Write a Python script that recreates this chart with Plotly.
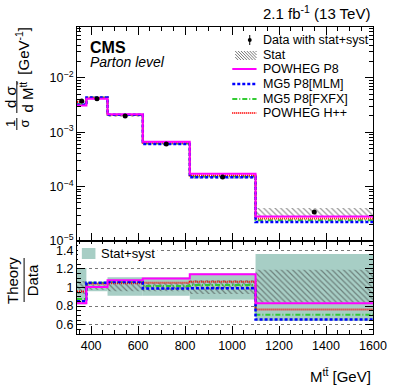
import plotly.graph_objects as go

# ---------------- data ----------------
edges = [340, 380, 470, 620, 820, 1100, 1600]
data = [3.74e-3, 4.12e-3, 1.98e-3, 6.1e-4, 1.5e-4, 3.4e-5]
stat_up = [1.07, 1.025, 1.045, 1.045, 1.08, 1.19]
stat_dn = [0.93, 0.975, 0.96, 0.96, 0.93, 0.84]
tot_up = [1.21, 1.05, 1.11, 1.11, 1.15, 1.36]
tot_dn = [0.82, 0.96, 0.91, 0.91, 0.87, 0.64]

powheg_p8 = [3.104e-3, 4.141e-3, 2.133e-3, 6.698e-4, 1.7145e-4, 2.822e-5]
mg5_mlm = [3.190e-3, 4.326e-3, 2.099e-3, 6.039e-4, 1.4895e-4, 2.230e-5]
mg5_fxfx = [3.280e-3, 4.326e-3, 2.099e-3, 6.204e-4, 1.5405e-4, 2.407e-5]
powheg_hpp = [3.583e-3, 4.285e-3, 2.069e-3, 6.405e-4, 1.5945e-4, 2.598e-5]

model_names = ["POWHEG P8", "MG5 P8[MLM]", "MG5 P8[FXFX]", "POWHEG H++"]
model_values = [powheg_p8, mg5_mlm, mg5_fxfx, powheg_hpp]
model_colors = ["#ff00ff", "#0000ff", "#33cc33", "#ff0000"]
model_dash = ["solid", "3px,2px", "5px,2px,1px,2px", "1px,1px"]
model_width = [2, 2.5, 2, 2]

x_tick_vals = [400, 600, 800, 1000, 1200, 1400, 1600]
y_tick_vals = [1e-5, 1e-4, 1e-3, 1e-2]
y_tick_text = ["10<sup>\u22125</sup>", "10<sup>\u22124</sup>", "10<sup>\u22123</sup>", "10<sup>\u22122</sup>"]
r_tick_vals = [0.6, 0.8, 1.0, 1.2, 1.4]
r_tick_text = ["0.6", "0.8", "1", "1.2", "1.4"]

# ---------------- geometry helpers ----------------
W, H = 399, 385
L, R, T, B = 77, 382, 27, 334
PW, PH = R - L, B - T


def px(x):
    return (x - L) / PW


def py(y):
    return (B - y) / PH


split = py(241)

centers = [(a + b) / 2 for a, b in zip(edges[:-1], edges[1:])]
widths = [b - a for a, b in zip(edges[:-1], edges[1:])]

fig = go.Figure()

FONT = "Liberation Sans, Arial, Helvetica, sans-serif"
HATCH = dict(shape="\\", fgcolor="#333333", size=4, solidity=0.3)

# ---------------- top panel ----------------
stat_lo = [d * s for d, s in zip(data, stat_dn)]
stat_h = [d * (u - s) for d, u, s in zip(data, stat_up, stat_dn)]
fig.add_trace(go.Bar(x=centers, y=stat_h, base=stat_lo, width=widths,
                     marker=dict(color="rgba(0,0,0,0)", line=dict(width=0), pattern=HATCH),
                     xaxis="x", yaxis="y", showlegend=False))

order = [2, 3, 1, 0]
for i in order:
    vals = model_values[i]
    fig.add_trace(go.Scatter(x=edges, y=vals + [vals[-1]], mode="lines",
                             line=dict(shape="hv", color=model_colors[i],
                                       dash=model_dash[i], width=model_width[i]),
                             xaxis="x", yaxis="y", showlegend=False))

fig.add_trace(go.Scatter(x=centers, y=data, mode="markers",
                         marker=dict(color="black", size=5),
                         xaxis="x", yaxis="y", showlegend=False))

# ---------------- ratio panel ----------------
fig.add_trace(go.Bar(x=centers, y=[u - d for u, d in zip(tot_up, tot_dn)], base=tot_dn,
                     width=widths, marker=dict(color="#a7cec5", line=dict(width=0)),
                     xaxis="x2", yaxis="y2", showlegend=False))
fig.add_trace(go.Bar(x=centers, y=[u - d for u, d in zip(stat_up, stat_dn)], base=stat_dn,
                     width=widths,
                     marker=dict(color="rgba(0,0,0,0)", line=dict(width=0), pattern=HATCH),
                     xaxis="x2", yaxis="y2", showlegend=False))
for i in order:
    ratio = [m / d for m, d in zip(model_values[i], data)]
    fig.add_trace(go.Scatter(x=edges, y=ratio + [ratio[-1]], mode="lines",
                             line=dict(shape="hv", color=model_colors[i],
                                       dash=model_dash[i], width=model_width[i]),
                             xaxis="x2", yaxis="y2", showlegend=False))

# ---------------- axes ----------------
common = dict(showline=True, linecolor="black", linewidth=1, mirror="allticks",
              ticks="inside", ticklen=8, tickcolor="black", tickwidth=1,
              zeroline=False, showgrid=False,
              tickfont=dict(family=FONT, size=12.5, color="black"))

xminor = dict(ticks="inside", ticklen=4, tickcolor="black", dtick=50, tick0=0)
fig.update_layout(
    xaxis=dict(**common, range=[340, 1600], tickmode="array", tickvals=x_tick_vals,
               showticklabels=False, anchor="y", domain=[0, 1], minor=xminor),
    yaxis=dict(**common, type="log", range=[-5, -1.066], tickmode="array",
               tickvals=y_tick_vals, ticktext=y_tick_text, anchor="x",
               domain=[split, 1],
               minor=dict(ticks="inside", ticklen=4, tickcolor="black", tickmode="array",
                          tickvals=[k * 10 ** e for e in range(-5, -1) for k in range(2, 10)])),
    xaxis2=dict(**common, range=[340, 1600], tickmode="array", tickvals=x_tick_vals,
                anchor="y2", domain=[0, 1], minor=xminor),
    yaxis2=dict(**{**common, "showgrid": True}, range=[0.5, 1.5], tickmode="array",
                tickvals=r_tick_vals, ticktext=r_tick_text, anchor="x2",
                domain=[0, split], gridcolor="#777777", griddash="dot", gridwidth=1,
                minor=dict(ticks="inside", ticklen=4, tickcolor="black", dtick=0.05,
                           tick0=0, showgrid=False)),
    barmode="overlay",
    width=W, height=H,
    margin=dict(l=L, r=W - R, t=T, b=H - B),
    paper_bgcolor="white", plot_bgcolor="white",
    showlegend=False,
    font=dict(family=FONT, color="black"),
)

ann = []
shapes = []


def text(x, y, s, size, xa="center", ya="middle", angle=0, **kw):
    ann.append(dict(x=px(x), y=py(y), xref="paper", yref="paper", text=s,
                    showarrow=False, xanchor=xa, yanchor=ya, textangle=angle,
                    font=dict(family=FONT, size=size, color="black", **kw)))


def hline(x0, x1, y, color="black", width=1, dash="solid"):
    shapes.append(dict(type="line", xref="paper", yref="paper", x0=px(x0), x1=px(x1),
                       y0=py(y), y1=py(y), line=dict(color=color, width=width, dash=dash)))


def vline(x, y0, y1, color="black", width=1):
    shapes.append(dict(type="line", xref="paper", yref="paper", x0=px(x), x1=px(x),
                       y0=py(y0), y1=py(y1), line=dict(color=color, width=width)))


# title & labels
text(381, 13, "2.1 fb<sup>-1</sup> (13 TeV)", 15, xa="right")
text(88, 47, "<b>CMS</b>", 16, xa="left")
text(88, 62, "<i>Parton level</i>", 14, xa="left")
text(382, 375, "M<sup>tt\u0304</sup> [GeV]", 15, xa="right")

# top y title (rotated, composed)
text(8, 124, "1", 13, angle=-90)
text(22, 124, "\u03c3", 13, angle=-90)
vline(15, 118, 130)
text(8, 97, "d \u03c3", 15, angle=-90)
text(24, 97, "d M<sup>tt\u0304</sup>", 15, angle=-90)
vline(15, 81, 113)
text(20, 51, "[GeV<sup>-1</sup>]", 15, angle=-90)

# ratio y title
text(10, 280, "Theory", 15, angle=-90)
text(31, 280, "Data", 15, angle=-90)
vline(22.5, 258, 302)

# top legend
lx0, lx1, tx = 237, 262, 267
rows = [40, 55, 69, 84, 99, 113]
labels = ["Data with stat+syst", "Stat"] + model_names
for yy, lab in zip(rows, labels):
    text(tx, yy, lab, 12.5, xa="left")
vline(255, 35, 45)
shapes.append(dict(type="circle", xref="paper", yref="paper", x0=px(253), x1=px(257),
                   y0=py(38), y1=py(42), fillcolor="black", line=dict(width=0)))
# hatched box for "Stat"
bx0, bx1, by0, by1 = 240, 262, 51, 60
c = bx0 - by1
while c < bx1 - by0:
    xa_ = max(bx0, c + by0)
    xb_ = min(bx1, c + by1)
    if xb_ > xa_:
        shapes.append(dict(type="line", xref="paper", yref="paper",
                           x0=px(xa_), y0=py(xa_ - c), x1=px(xb_), y1=py(xb_ - c),
                           line=dict(color="#555555", width=0.8)))
    c += 3
for yy, i in zip(rows[2:], range(4)):
    hline(lx0, lx1, yy, color=model_colors[i], width=model_width[i], dash=model_dash[i])

# ratio legend
shapes.append(dict(type="rect", xref="paper", yref="paper", x0=px(78), x1=px(160),
                   y0=py(244), y1=py(263), fillcolor="white", line=dict(width=0),
                   layer="above"))
shapes.append(dict(type="rect", xref="paper", yref="paper", x0=px(82), x1=px(96),
                   y0=py(248), y1=py(259), fillcolor="#a7cec5", line=dict(width=0),
                   layer="above"))
text(100, 253, "Stat+syst", 13, xa="left")

fig.update_layout(annotations=ann, shapes=shapes)
fig.write_html("out.html", config={"displayModeBar": False},
               post_script="document.body.style.margin='0px';document.body.style.overflow='hidden';")
